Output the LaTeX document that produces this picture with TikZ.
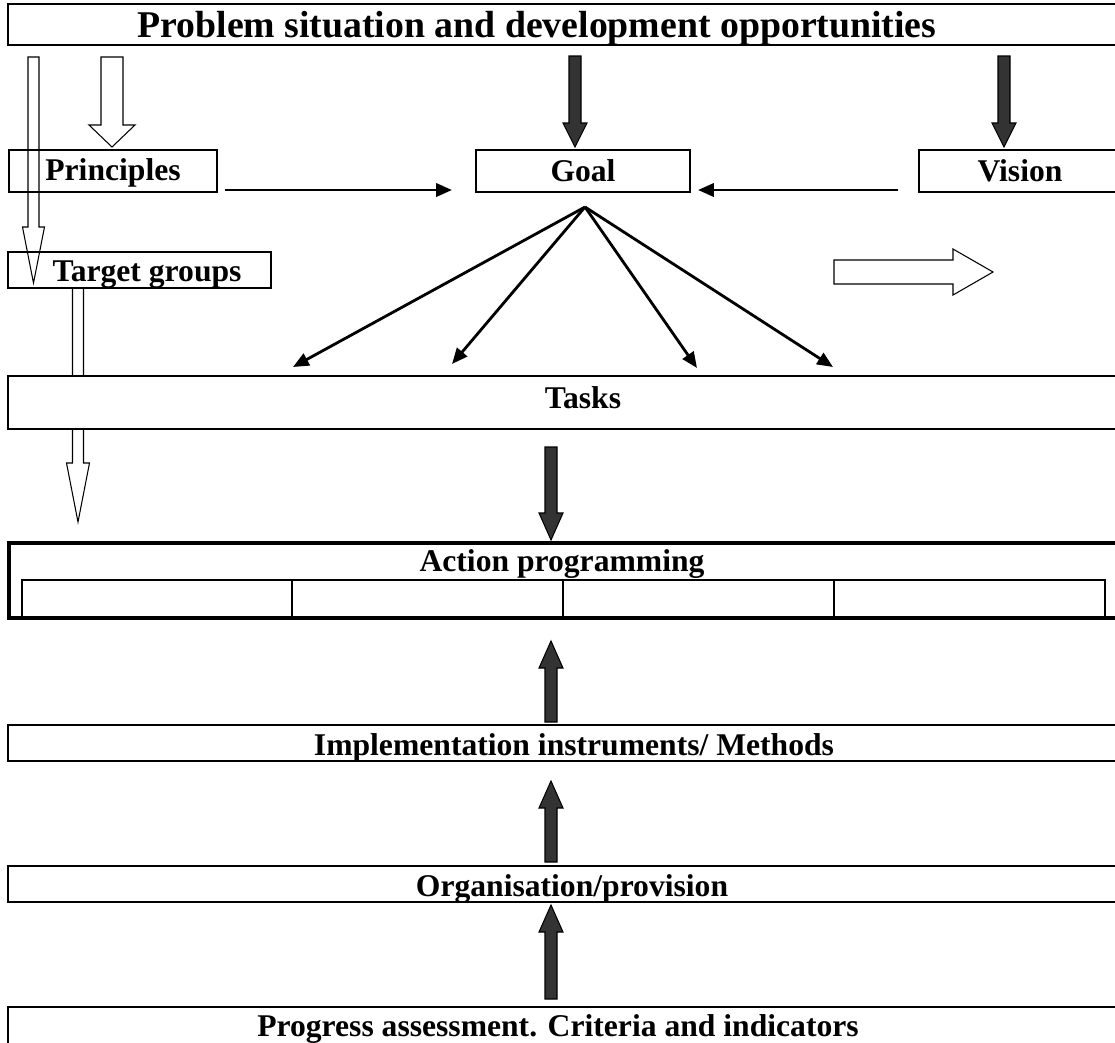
\documentclass[tikz,border=0pt]{standalone}
\usepackage{fontspec}
\setmainfont{Liberation Serif}
\usetikzlibrary{arrows.meta, positioning, calc}

\newcommand{\pu}{0.02cm}
% vertical block arrow: style, x, start y, head base y, tip y, half shaft, half head
\newcommand{\vblock}[7]{\draw[#1] (#2-#6,#3) -- (#2-#6,#4) -- (#2-#7,#4) -- (#2,#5) -- (#2+#7,#4) -- (#2+#6,#4) -- (#2+#6,#3) -- cycle;}

\begin{document}
\begin{tikzpicture}[x=\pu, y=-\pu,
  box/.style={draw, line width=1.2pt, inner sep=0pt, outer sep=0pt, anchor=north west, fill=white},
  lbl/.style={font=\fontsize{18}{20}\selectfont\bfseries, anchor=base, inner sep=0pt},
  darkarrow/.style={draw=black, line width=0.6pt, fill=black!80},
  hollowarrow/.style={draw=black, line width=0.6pt},
  thinarrow/.style={line width=1.6pt, -{Triangle[length=9pt,width=7.5pt]}}
]
\useasboundingbox (0,0) rectangle (1115,1042);
\clip (0,0) rectangle (1115,1042);

% arrow from target groups, partly hidden by tasks
\vblock{hollowarrow}{78}{288}{463}{522}{5.5}{11.5}

% boxes
\node[box, minimum width=1150*\pu, minimum height=41*\pu] (prob) at (8,4) {};
\node[box, minimum width=208*\pu, minimum height=42*\pu] (princ) at (9,150) {};
\node[box, minimum width=214*\pu, minimum height=42*\pu] (goal) at (476,150) {};
\node[box, minimum width=250*\pu, minimum height=42*\pu] (vision) at (919,150) {};
\node[box, minimum width=263*\pu, minimum height=36*\pu] (target) at (8,252) {};
\node[box, minimum width=1150*\pu, minimum height=53*\pu] (tasks) at (8,376) {};
\node[box, line width=2.5pt, minimum width=1150*\pu, minimum height=75*\pu] (action) at (9,543) {};
\node[box, minimum width=270*\pu, minimum height=37*\pu] (cell1) at (22,580) {};
\node[box, minimum width=271*\pu, minimum height=37*\pu] (cell2) at (cell1.north east) {};
\node[box, minimum width=271*\pu, minimum height=37*\pu] (cell3) at (cell2.north east) {};
\node[box, minimum width=271*\pu, minimum height=37*\pu] (cell4) at (cell3.north east) {};
\draw[line width=2.5pt] (action.south west) -- (action.south east);
\node[box, minimum width=1150*\pu, minimum height=36*\pu] (impl) at (8,725) {};
\node[box, minimum width=1150*\pu, minimum height=36*\pu] (org) at (8,866) {};
\node[box, minimum width=1150*\pu, minimum height=60*\pu] (prog) at (8,1007) {};

% texts
\node[lbl, font=\fontsize{21.5}{24}\selectfont\bfseries] (probtxt) at (537,37) {Problem situation and development opportunities};
\node[lbl] (princtxt) at (113,180) {Principles};
\node[lbl] (goaltxt) at (583,181) {Goal};
\node[lbl] (visiontxt) at (1020,181) {Vision};
\node[lbl] (targettxt) at (147,281) {Target groups};
\node[lbl] (taskstxt) at (583,408) {Tasks};
\node[lbl] (actiontxt) at (562,571) {Action programming};
\node[lbl] (impltxt) at (574,755) {Implementation instruments/ Methods};
\node[lbl] (orgtxt) at (572,896) {Organisation/provision};
\node[lbl] (progtxt) at (558,1036) {Progress assessment. Criteria and indicators};

% hollow block arrows
\vblock{hollowarrow}{112}{57}{125}{147}{11}{23}
\vblock{hollowarrow}{33.5}{57}{227}{283}{5.5}{11}
\draw[hollowarrow] (834,260) -- (953,260) -- (953,249) -- (993,272) -- (953,295) -- (953,284) -- (834,284) -- cycle;

% dark block arrows
\vblock{darkarrow}{575}{56}{123}{147}{6}{12}
\vblock{darkarrow}{1004}{56}{123}{147}{6}{12}
\vblock{darkarrow}{551}{447}{513}{540}{6}{12}
\vblock{darkarrow}{551}{722}{668}{641}{6}{12}
\vblock{darkarrow}{551}{862}{808}{781}{6}{12}
\vblock{darkarrow}{551}{999}{932}{905}{6}{12}

% thin arrows towards and from the goal
\coordinate (pg0) at (225,190);
\coordinate (pg1) at (452,190);
\coordinate (vg0) at (898,190);
\coordinate (vg1) at (698,190);
\draw[thinarrow] (pg0) -- (pg1);
\draw[thinarrow] (vg0) -- (vg1);

\coordinate (fan) at (585,207);
\coordinate (t1) at (293,367);
\coordinate (t2) at (452,364);
\coordinate (t3) at (697,368);
\coordinate (t4) at (833,367);
\foreach \t in {t1,t2,t3,t4}
  \draw[thinarrow] (fan) -- (\t);

\end{tikzpicture}
\end{document}
